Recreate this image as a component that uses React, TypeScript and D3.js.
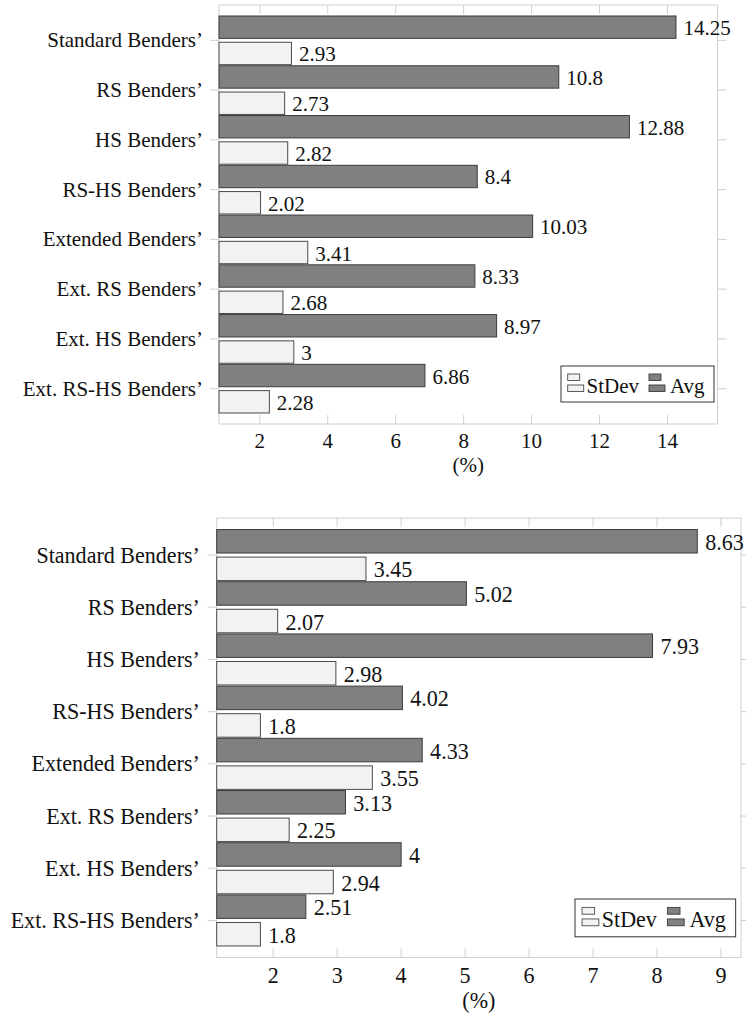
import React from "react";
import * as d3 from "d3";

// categories, top to bottom
const categories = [
  "Standard Benders’",
  "RS Benders’",
  "HS Benders’",
  "RS-HS Benders’",
  "Extended Benders’",
  "Ext. RS Benders’",
  "Ext. HS Benders’",
  "Ext. RS-HS Benders’",
];

// upper chart
const topAvg = [14.25, 10.8, 12.88, 8.4, 10.03, 8.33, 8.97, 6.86];
const topStd = [2.93, 2.73, 2.82, 2.02, 3.41, 2.68, 3, 2.28];
const topTicks = [2, 4, 6, 8, 10, 12, 14];

// lower chart
const botAvg = [8.63, 5.02, 7.93, 4.02, 4.33, 3.13, 4, 2.51];
const botStd = [3.45, 2.07, 2.98, 1.8, 3.55, 2.25, 2.94, 1.8];
const botTicks = [2, 3, 4, 5, 6, 7, 8, 9];

const FONT = "'Liberation Serif', 'DejaVu Serif', serif";
const AVG_FILL = "#808080";
const AVG_STROKE = "#3c3c3c";
const STD_FILL = "#f2f2f2";
const STD_STROKE = "#4a4a4a";
const GRID = "#cfcfcf";

function LegendIcon({ x, y, fill, stroke, s }) {
  return (
    <g>
      <rect x={x} y={y} width={12 * s} height={6.5 * s} fill={fill} stroke={stroke} strokeWidth={0.9} />
      <rect x={x} y={y + 11 * s} width={16 * s} height={6.5 * s} fill={fill} stroke={stroke} strokeWidth={0.9} />
    </g>
  );
}

function Panel({ avg, std, ticks, frame, s, legend }) {
  const all = avg.concat(std);
  const lo = d3.min(all);
  const hi = d3.max(all);
  const pad = (hi - lo) * 0.1;
  const x = d3.scaleLinear().domain([lo - pad, hi + pad]).range([frame.left, frame.right]);
  const y = d3.scalePoint().domain(categories).range([frame.top, frame.bottom]).padding(0.71);
  const step = y.step();
  const barH = 0.45 * step;
  const shift = 0.264 * step;
  const fs = 21 * s;
  const x0 = x.range()[0];

  const bars = [
    { vals: avg, off: -shift, fill: AVG_FILL, stroke: AVG_STROKE },
    { vals: std, off: shift, fill: STD_FILL, stroke: STD_STROKE },
  ];

  return (
    <g fontFamily={FONT} fill="#111">
      <rect
        x={frame.left}
        y={frame.top}
        width={frame.right - frame.left}
        height={frame.bottom - frame.top}
        fill="none"
        stroke={GRID}
        strokeWidth={1}
      />
      {ticks.map((t) => (
        <g key={"xt" + t}>
          <line x1={x(t)} x2={x(t)} y1={frame.top} y2={frame.top + 9} stroke={GRID} />
          <line x1={x(t)} x2={x(t)} y1={frame.bottom - 9} y2={frame.bottom} stroke={GRID} />
          <text x={x(t)} y={frame.bottom + 24 * s} textAnchor="middle" fontSize={fs}>
            {t}
          </text>
        </g>
      ))}
      {categories.map((c) => (
        <g key={"yt" + c}>
          <line x1={frame.left - 9} x2={frame.left} y1={y(c)} y2={y(c)} stroke={GRID} />
          <line x1={frame.right} x2={frame.right + 9} y1={y(c)} y2={y(c)} stroke={GRID} />
          <text
            x={frame.left - 16 * s}
            y={y(c)}
            textAnchor="end"
            dominantBaseline="central"
            fontSize={fs}
          >
            {c}
          </text>
        </g>
      ))}
      {bars.map((b, bi) =>
        b.vals.map((v, i) => {
          const cy = y(categories[i]) + b.off;
          return (
            <g key={bi + "-" + i}>
              <rect
                x={x0}
                y={cy - barH / 2}
                width={x(v) - x0}
                height={barH}
                fill={b.fill}
                stroke={b.stroke}
                strokeWidth={1}
              />
              <text x={x(v) + 7.5 * s} y={cy + 1} dominantBaseline="central" fontSize={fs}>
                {String(v)}
              </text>
            </g>
          );
        })
      )}
      <text
        x={(frame.left + frame.right) / 2}
        y={frame.bottom + 48 * s}
        textAnchor="middle"
        fontSize={fs}
      >
        (%)
      </text>
      <g>
        <rect
          x={legend.x}
          y={legend.y}
          width={153 * s}
          height={36 * s}
          fill="#fff"
          stroke="#333"
          strokeWidth={1}
        />
        <LegendIcon x={legend.x + 6.7 * s} y={legend.y + 8 * s} fill={STD_FILL} stroke={STD_STROKE} s={s} />
        <text x={legend.x + 25.5 * s} y={legend.y + 19.5 * s} dominantBaseline="central" fontSize={fs}>
          StDev
        </text>
        <LegendIcon x={legend.x + 88 * s} y={legend.y + 8 * s} fill={AVG_FILL} stroke={AVG_STROKE} s={s} />
        <text x={legend.x + 109 * s} y={legend.y + 19.5 * s} dominantBaseline="central" fontSize={fs}>
          Avg
        </text>
      </g>
    </g>
  );
}

export default function App() {
  return (
    <svg
      width={746}
      height={1014}
      style={{ position: "absolute", left: 0, top: 0, display: "block", background: "#fff" }}
    >
      <Panel
        avg={topAvg}
        std={topStd}
        ticks={topTicks}
        frame={{ left: 219, right: 717.5, top: 5, bottom: 424 }}
        s={1}
        legend={{ x: 561, y: 366 }}
      />
      <Panel
        avg={botAvg}
        std={botStd}
        ticks={botTicks}
        frame={{ left: 216.7, right: 741, top: 518, bottom: 957.5 }}
        s={1.05}
        legend={{ x: 575, y: 899 }}
      />
    </svg>
  );
}
